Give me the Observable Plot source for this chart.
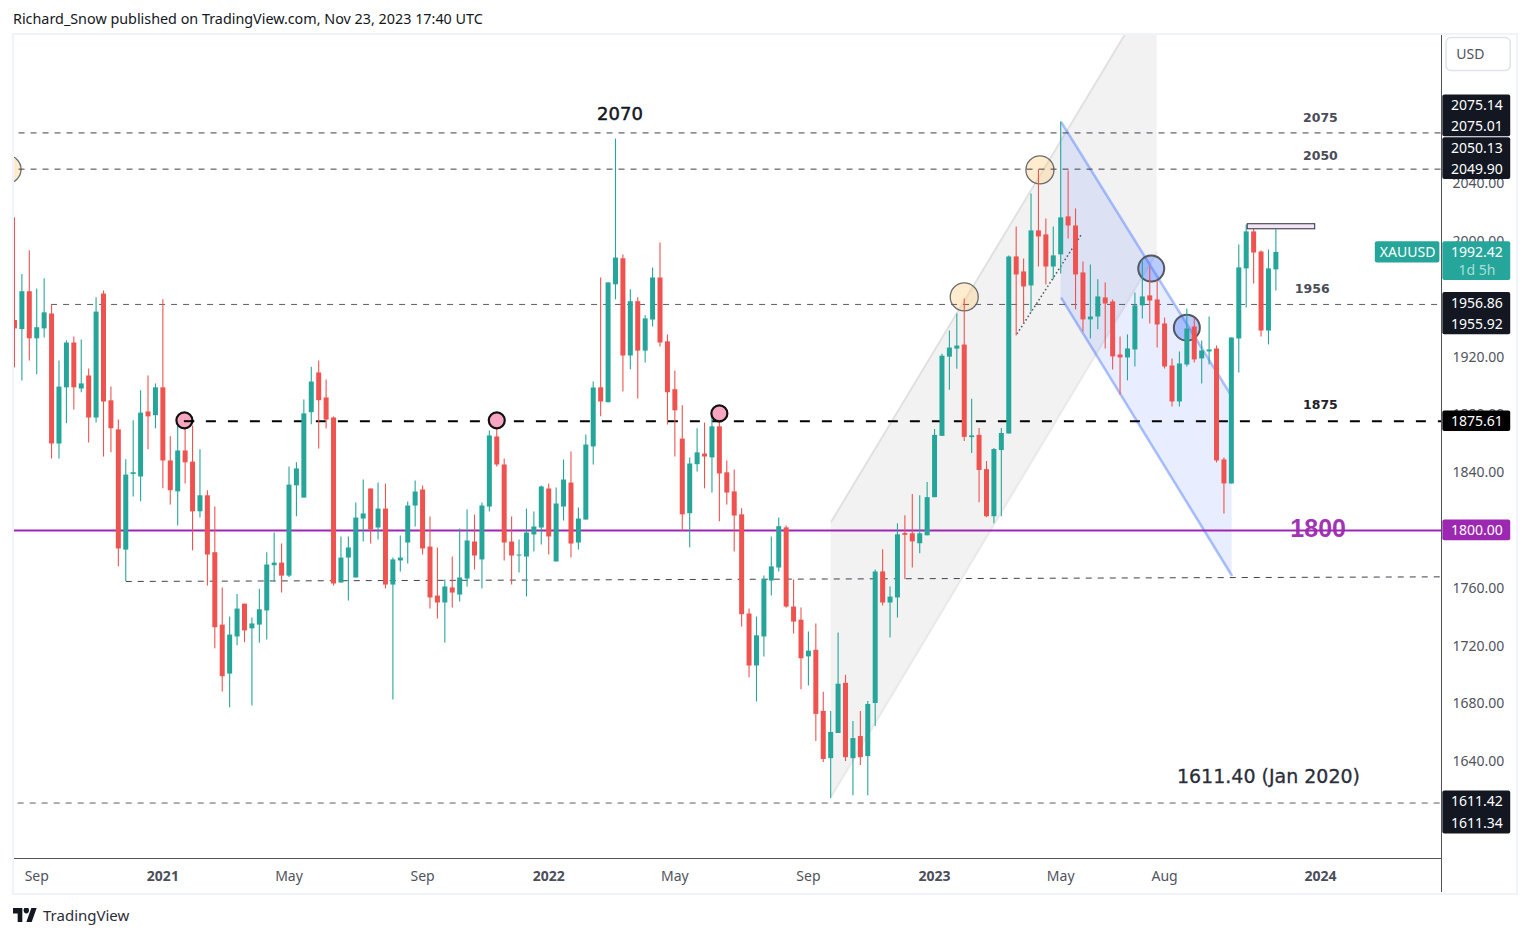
<!DOCTYPE html>
<html><head><meta charset="utf-8">
<script src="https://cdn.jsdelivr.net/npm/d3@7"></script>
<script src="https://cdn.jsdelivr.net/npm/@observablehq/plot@0.6"></script>
<style>
html,body{margin:0;padding:0;background:#fff;width:1529px;height:937px;overflow:hidden;font-family:"Noto Sans",sans-serif;color:#131722}
#head{position:absolute;left:13px;top:10px;font-size:14.35px;line-height:18px;white-space:nowrap}
#chart{position:absolute;left:0;top:34px}
#frame{position:absolute;left:12px;top:33px;width:1502px;height:858px;border:2px solid #f0f3fa;pointer-events:none}
#foot{position:absolute;left:13px;top:905px;height:20px;display:flex;align-items:center;font-size:15px;color:#2a2e39}
#foot svg{margin-right:6px}
</style></head><body>
<div id="head">Richard_Snow published on TradingView.com, Nov 23, 2023 17:40 UTC</div>
<div id="chart"></div>
<div id="frame"></div>
<div id="foot"><svg width="24" height="14" viewBox="0 4 36 18" preserveAspectRatio="none"><path fill="#131722" d="M14 22H7V11H0V4h14v18zM28 22h-8l7.5-18h8L28 22z"/><circle fill="#131722" cx="20" cy="7" r="4"/></svg>TradingView</div>
<script>
const firstWeek = "2020-08-17";
const opens = [1945.3,1939,1965.2,1932.6,1939.5,1949.8,1859.8,1898.7,1929.7,1897.9,
1906.9,1877.8,1963.6,1889.7,1869.6,1786.4,1839.1,1837,1882,1879.4,
1898.7,1848.1,1826.7,1855,1847.3,1812.9,1824,1784.6,1734.5,1700.6,
1726.3,1749,1731.9,1734.5,1744.3,1775.6,1777.4,1768.4,1830.9,1822.4,
1881.5,1909,1891.7,1877.8,1763.6,1780.9,1767.1,1807.9,1828.7,1801.7,
1814.8,1762.2,1778.9,1791.3,1816.9,1828,1788.5,1754.6,1749.8,1760.2,
1755.3,1766.4,1792,1779.6,1816.2,1864.7,1845.3,1792,1782.3,1781.6,
1796.9,1801.7,1828.7,1778.2,1816.2,1832.8,1791.3,1807.2,1857.8,1898.7,
1888.4,1970,1988,1920.7,1958.3,1924.1,1945.6,1974.7,1930.5,1897.4,
1863.2,1811.6,1845.5,1852.9,1850.2,1871.7,1839.9,1826.7,1810.8,1742.2,
1706.2,1726.3,1765,1774,1801.8,1747,1737.9,1712.5,1717.1,1674.8,
1642.1,1659.5,1694.2,1642.1,1657.4,1643.5,1680.3,1771.3,1749.8,1753.3,
1797.5,1797.7,1790.8,1796.3,1822.7,1865.1,1919.9,1925.5,1928.3,1864.6,
1865.8,1842.1,1809.5,1855.3,1866.8,1989.3,1978.9,1969.2,2007.3,2004.5,
1982.3,1990.7,2017,2010.7,1978.2,1945.7,1947.7,1960.9,1958.1,1921.4,
1919.4,1924.9,1955.4,1962.3,1959.5,1942.9,1913.8,1888.9,1914.5,1940.8,
1918.7,1923.5,1925.6,1848.8,1832.2,1932.5,1981,2006.6,1992.7,1938,1980.3];
const closes = [1939.5,1965.2,1932.6,1940.3,1950.6,1859.8,1899.2,1929.7,1898.7,1901.4,
1877.8,1951.1,1888.9,1870.4,1787.2,1838.3,1839.6,1881.2,1878.6,1898.7,
1848.1,1827.5,1855,1846.8,1812.9,1824,1783,1732.7,1698.8,1727.6,
1745.6,1730.5,1735.3,1745.1,1776.1,1777.4,1768.4,1831.4,1842.6,1880.7,
1902.7,1889.8,1876.4,1762.9,1780.9,1787.9,1808.6,1811.4,1800.3,1814.8,
1762.2,1779.6,1780.9,1816.9,1826.6,1787.2,1753.3,1749.8,1760.9,1756.7,
1767.1,1792.7,1782.3,1816.9,1865.4,1845.3,1791.3,1782.3,1783,1798.2,
1802.4,1830.1,1795.5,1818.3,1834.9,1790.6,1807.9,1859.1,1898.6,1888.9,
1971.3,1988.5,1920.7,1958.3,1924.1,1946.4,1974.7,1929.7,1895.3,1882.8,
1810.8,1846,1853.7,1850.8,1871.7,1839.1,1825.9,1810,1741.7,1706.2,
1727.1,1766,1774.8,1802.6,1747,1736.6,1711.2,1716.5,1672.7,1641.5,
1660.2,1693.6,1642.8,1656,1642.8,1679.6,1771.3,1749.8,1753.9,1797,
1797,1792.1,1797.7,1822.7,1865.8,1920.6,1926.2,1927.6,1864.4,1865.1,
1841.5,1809.5,1856,1867.1,1989.3,1976.8,1968.5,2007.3,2003.1,1982.3,
1990,2016.3,2010.7,1976.8,1945.7,1947.7,1961.6,1956.7,1920.1,1919.4,
1925.6,1955.4,1961.6,1958.8,1942.2,1913.1,1888.9,1915.2,1939.4,1918,
1924.2,1924.9,1848.1,1832.2,1933.2,1981.7,2006.6,1992,1938,1981,1992.4];
const highs = [2016.3,1977.1,1993.5,1967,1974.2,1956.4,1917.2,1931.3,1933.9,1931.8,
1911.7,1961,1965.7,1899.2,1876.5,1848.9,1875.9,1896.6,1906.9,1901.4,
1959.6,1864.8,1873.3,1875.4,1872.2,1855.8,1827.5,1816.3,1760.2,1740.1,
1755.7,1749,1739.5,1759.4,1784.6,1798.3,1790.7,1843.9,1846.8,1890.2,
1912.9,1917.3,1904.1,1878.5,1795.5,1795.5,1819,1834.9,1828.7,1832.8,
1832.1,1780.9,1796.2,1819.7,1834.2,1830.8,1809.3,1787.9,1765.7,1781.6,
1801,1814.2,1810.7,1819,1868.8,1877.6,1849.4,1809.3,1793.4,1814.8,
1812.8,1830.8,1832.1,1829.4,1848.8,1854.3,1815.5,1866,1902.7,1974.7,
1971.3,2070.8,1990.6,1966.5,1961,1948.5,1981.6,1999,1935.3,1910.4,
1886.3,1850.2,1870.4,1874.3,1879.9,1879.9,1848.1,1841.8,1815,1745.6,
1740.1,1768.4,1795.4,1808.7,1803.1,1765.8,1746.4,1729.7,1735.2,1688,
1674.8,1729,1699.8,1667.8,1674.8,1681.7,1772.7,1786.6,1760.9,1804.6,
1810.2,1824.8,1824.1,1833.1,1869.9,1922,1938,1949.8,1960.2,1890.8,
1870.6,1847.7,1856.7,1870.6,1990,2010,1987.9,2032.9,2049.5,2015.6,
2010,2082.7,2048.8,2022.5,1985.8,1983.7,1973.4,1971.3,1959.5,1933.9,
1935.3,1964.4,1987.2,1982.3,1972.7,1947.1,1918.7,1923.5,1953.3,1946.4,
1931.1,1947.7,1927.7,1850.2,1933.2,1997.6,2011.4,2008.6,1993.4,1994.1,2008];
const lows = [1912.5,1903.5,1917.2,1907.7,1933.1,1849.4,1849.4,1873.8,1883.3,1895.3,
1860.6,1874.3,1850.8,1853.7,1774.8,1764.7,1823.2,1819.8,1855.8,1870.4,
1828.8,1817.7,1803.1,1832.2,1785.9,1808.7,1761.5,1718.1,1688.2,1677.3,
1720.2,1722.3,1678.6,1722,1724.2,1764.2,1756.8,1767.4,1809.5,1822.4,
1873.2,1856.4,1870.2,1761.6,1763.6,1751.2,1767.1,1792,1790.6,1793.4,
1759.5,1682.7,1771.2,1776.8,1802.4,1783,1745.6,1738.7,1722.1,1746.3,
1750.5,1760.9,1772.6,1759.5,1812.8,1843.9,1778.9,1762.2,1770.6,1754,
1785.1,1790,1783,1778.2,1806.5,1780.9,1786.5,1807.2,1845.3,1878.6,
1888.4,1959.6,1895.8,1911.2,1891,1915.9,1940.8,1927,1873,1850.8,
1799.7,1788,1840.4,1828.8,1825.9,1806,1817.7,1785.1,1733.2,1698,
1681.3,1712.5,1754.6,1771.3,1746.2,1728.4,1689.8,1692.4,1654,1639.4,
1614.6,1659.5,1640.1,1616.5,1637.3,1616.5,1664.4,1747.7,1725.5,1739.4,
1766,1774.1,1783.8,1796.3,1822.7,1865.1,1897,1911.6,1861.6,1853.3,
1819.2,1808.8,1804.6,1809.5,1866.8,1934.6,1943.4,1951.2,1982.3,1969.9,
1973.4,1977.5,2001.7,1952.6,1937.4,1932.5,1938.8,1925.6,1911,1893.8,
1903.5,1913.1,1946.4,1942.9,1926.3,1911.8,1885.5,1885.5,1913.1,1915.9,
1901.4,1914.5,1846.7,1811.4,1832.2,1909,1954,1970.6,1933.9,1928.4,1965.7];

const monthTicks = ["2020-09-07","2021-05-03","2021-09-06","2022-05-02","2022-09-05","2023-05-01","2023-08-07"];
const yearTicks = ["2021-01-04","2022-01-03","2023-01-02","2024-01-01"];
const priceTicks = [1640,1680,1720,1760,1800,1840,1880,1920,2000,2040];

// thin horizontal levels: price, first week index
const levels = [
  {p:2075.08,from:-1,c:"#3f424d"},{p:2050.02,from:-1,c:"#3f424d"},
  {p:1956.4,from:5,c:"#5c5f6a"},{p:1611.38,from:0.5,c:"#5c5f6a"}
];
const levelLabels = [
  {t:"2075",i:176,p:2085.5},{t:"2050",i:176,p:2059.2},{t:"1956",i:174.9,p:1967.1}
];
const tanCircles = [{i:-1,p:2049.9},{i:128,p:1961.6},{i:138.2,p:2049.5}];
const pinkCircles = [{i:22.9,p:1876.2},{i:65,p:1876.2},{i:95,p:1881}];
const blueCircles = [{i:153.2,p:1981.2},{i:158,p:1940.3}];
// price tag column: stacked rows
const tagBoxes = [
  {y1:2101.4,y2:2072.5,c:"#131722"},{y1:2071.8,y2:2042.8,c:"#131722"},
  {y1:1964.6,y2:1935.5,c:"#131722"},{y1:1882.7,y2:1868.4,c:"#000000"},
  {y1:1807.3,y2:1792.9,c:"#9c27b0"},{y1:1619.7,y2:1589.9,c:"#131722"},
  {y1:1999.7,y2:1972.9,c:"#26a69a"}
];
const tagTexts = [
  {t:"2075.14",p:2093.8},{t:"2075.01",p:2079.2},{t:"2050.13",p:2064.2},{t:"2049.90",p:2049.5},
  {t:"1992.42",p:1992.5},{t:"1956.86",p:1956.8},{t:"1955.92",p:1942.2},
  {t:"1875.61",p:1875.3},{t:"1800.00",p:1800},{t:"1611.42",p:1612.1},{t:"1611.34",p:1596.9}
];

const week = 7*864e5;
const t0 = new Date(firstWeek+"T00:00:00Z").getTime();
const at = i => new Date(t0 + i*week);
const candles = opens.map((o,i)=>({d:at(i),o,c:closes[i],h:highs[i],l:lows[i],col:closes[i]>=o?"#26a69a":"#ef5350"}));
// keep very thin bodies visible
candles.forEach(k=>{k.top=Math.max(k.o,k.c);k.bot=Math.min(k.o,k.c);if(k.top-k.bot<0.7){k.top+=0.35;k.bot-=0.35}});
const D=s=>new Date(s+"T00:00:00Z");
const leftI=-0.13, rightI=192.32, tagL=192.5, tagR=201.65, tagX=197.1;
const yBottom=1573, yTop=2142.5, ySub=1549.4;

const chart = Plot.plot({
  width:1529, height:858, marginLeft:13, marginRight:88, marginTop:1, marginBottom:34,
  style:{fontFamily:'"Noto Sans",sans-serif',background:"transparent",overflow:"visible"},
  x:{type:"utc",domain:[at(leftI),at(rightI)]},
  y:{type:"linear",domain:[yBottom,yTop]},
  marks:[
    // rising channel
    Plot.areaY([{i:110.05,lo:1615.6,hi:1805.9},{i:154,lo:1992.7,hi:2180.3}],{x:d=>at(d.i),y1:"lo",y2:"hi",fill:"#808080",fillOpacity:0.1,clip:"frame"}),
    Plot.link([{a:110.05,b:1805.9,c:154,e:2180.3},{a:110.05,b:1615.6,c:154,e:1992.7}],{x1:d=>at(d.a),y1:"b",x2:d=>at(d.c),y2:"e",stroke:"#808080",strokeOpacity:0.16,strokeWidth:2,clip:"frame"}),
    // falling channel
    Plot.areaY([{i:141.05,lo:1961.1,hi:2082.7},{i:164.1,lo:1768.5,hi:1892.4}],{x:d=>at(d.i),y1:"lo",y2:"hi",fill:"#2962ff",fillOpacity:0.11}),
    Plot.link([{a:141.05,b:2082.7,c:164.1,e:1892.4},{a:141.05,b:1961.1,c:164.1,e:1768.5}],{x1:d=>at(d.a),y1:"b",x2:d=>at(d.c),y2:"e",stroke:"#2962ff",strokeOpacity:0.38,strokeWidth:2.6}),
    // circles
    Plot.dot(tanCircles,{x:d=>at(d.i),y:"p",r:14,fill:"#ffcc80",fillOpacity:0.38,stroke:"#6b6b6b",strokeWidth:1.3,clip:"frame"}),
    Plot.dot(blueCircles,{x:d=>at(d.i),y:"p",r:13,fill:"#2962ff",fillOpacity:0.33,stroke:"#555860",strokeWidth:2}),
    // levels
    Plot.ruleY(levels,{y:"p",x1:d=>at(d.from),x2:at(rightI),stroke:"c",strokeWidth:1,strokeDasharray:"6,6",clip:"frame"}),
    Plot.link([{a:15,b:1764.7,c:rightI,e:1767.9}],{x1:d=>at(d.a),y1:"b",x2:d=>at(d.c),y2:"e",stroke:"#3f424d",strokeWidth:1,strokeDasharray:"6,6"}),
    Plot.ruleY([1875.61],{x1:at(22.9),x2:at(rightI),stroke:"#000",strokeWidth:2,strokeDasharray:"10,12"}),
    Plot.ruleY([1800],{x1:at(leftI),x2:at(rightI),stroke:"#9c27b0",strokeWidth:2}),
    // dotted trend
    Plot.link([{a:135.1,b:1936,c:143.9,e:2005.7}],{x1:d=>at(d.a),y1:"b",x2:d=>at(d.c),y2:"e",stroke:"#5d606b",strokeWidth:1.6,strokeDasharray:"1.6,2.4"}),
    // candles
    Plot.ruleX(candles,{x:"d",y1:"l",y2:"h",stroke:"col",strokeWidth:1.1,clip:"frame"}),
    Plot.ruleX(candles,{x:"d",y1:"bot",y2:"top",stroke:"col",strokeWidth:5,clip:"frame"}),
    // pink markers and range box
    Plot.dot(pinkCircles,{x:d=>at(d.i),y:"p",r:8,fill:"#f8a5c2",stroke:"#111",strokeWidth:2.2}),
    Plot.ruleY([1875.61],{x1:at(22.9),x2:at(24.3),stroke:"#000",strokeWidth:2}),
    Plot.rect([{a:166.2,b:175.3,y1:2008.4,y2:2011.9}],{x1:d=>at(d.a),x2:d=>at(d.b),y1:"y1",y2:"y2",fill:"#f3e5f5",stroke:"#2a2e39",strokeWidth:1}),
    // annotations
    Plot.text(levelLabels,{x:d=>at(d.i),y:"p",text:"t",fontSize:12.5,fontWeight:"bold",fill:"#4a4c57",fontFamily:"DejaVu Sans"}),
    Plot.text(["1875"],{x:at(176),y:1886.8,text:d=>d,fontSize:12.5,fontWeight:"bold",fill:"#1f2129",fontFamily:"DejaVu Sans"}),
    Plot.text(["2070"],{x:at(81.6),y:2088.2,text:d=>d,fontSize:18,fontFamily:"DejaVu Sans",fill:"#131722",stroke:"#131722",strokeWidth:0.5}),
    Plot.text(["1800"],{x:at(175.7),y:1801,text:d=>d,fontSize:25,fontWeight:"bold",fill:"#9c27b0",fillOpacity:0.95,fontFamily:"Liberation Sans"}),
    Plot.text(["1611.40 (Jan 2020)"],{x:at(169),y:1629.4,text:d=>d,fontSize:19,fill:"#2a2e39",stroke:"#2a2e39",strokeWidth:0.3,fontFamily:"DejaVu Sans"}),
    // axes
    Plot.axisY({anchor:"right",ticks:priceTicks,tickSize:0,tickPadding:11,fontSize:14,color:"#50535e",tickFormat:d=>d.toFixed(2),label:null}),
    Plot.axisX({ticks:monthTicks.map(D),anchor:"bottom",tickSize:0,tickPadding:13,fontSize:14,color:"#50535e",tickFormat:d=>d3.utcFormat("%b")(d),label:null}),
    Plot.axisX({ticks:yearTicks.map(D),anchor:"bottom",tickSize:0,tickPadding:13,fontSize:14,fontWeight:"bold",color:"#4a4e5a",tickFormat:d=>d3.utcFormat("%Y")(d),label:null}),
    Plot.ruleY([yBottom],{x1:at(leftI),x2:at(rightI),stroke:"#50535e",strokeWidth:1}),
    Plot.ruleX([at(rightI)],{y1:ySub,y2:yTop,stroke:"#50535e",strokeWidth:1}),
    // price tags
    Plot.rect(tagBoxes,{x1:at(tagL),x2:at(tagR),y1:"y1",y2:"y2",fill:"c",r:2}),
    Plot.rect([{y1:1999.7,y2:1985.1}],{x1:at(183.4),x2:at(192.1),y1:"y1",y2:"y2",fill:"#26a69a",r:2}),
    Plot.text(["XAUUSD"],{x:at(187.75),y:1992.5,text:d=>d,fill:"#fff",fontSize:14}),
    Plot.text(tagTexts,{x:at(tagX),y:"p",text:"t",fill:"#fff",fontSize:14}),
    Plot.text(["1d 5h"],{x:at(tagX),y:1979.8,text:d=>d,fill:"#a8dfd9",fontSize:14}),
    // currency button
    Plot.rect([{y1:2140.8,y2:2118}],{x1:at(193),x2:at(201.65),y1:"y1",y2:"y2",fill:"#fff",stroke:"#e0e3eb",strokeWidth:1.5,r:5}),
    Plot.text(["USD"],{x:at(196.2),y:2129.5,text:d=>d,fill:"#50535e",fontSize:14})
  ]
});
document.getElementById("chart").appendChild(chart);
</script>
</body></html>
